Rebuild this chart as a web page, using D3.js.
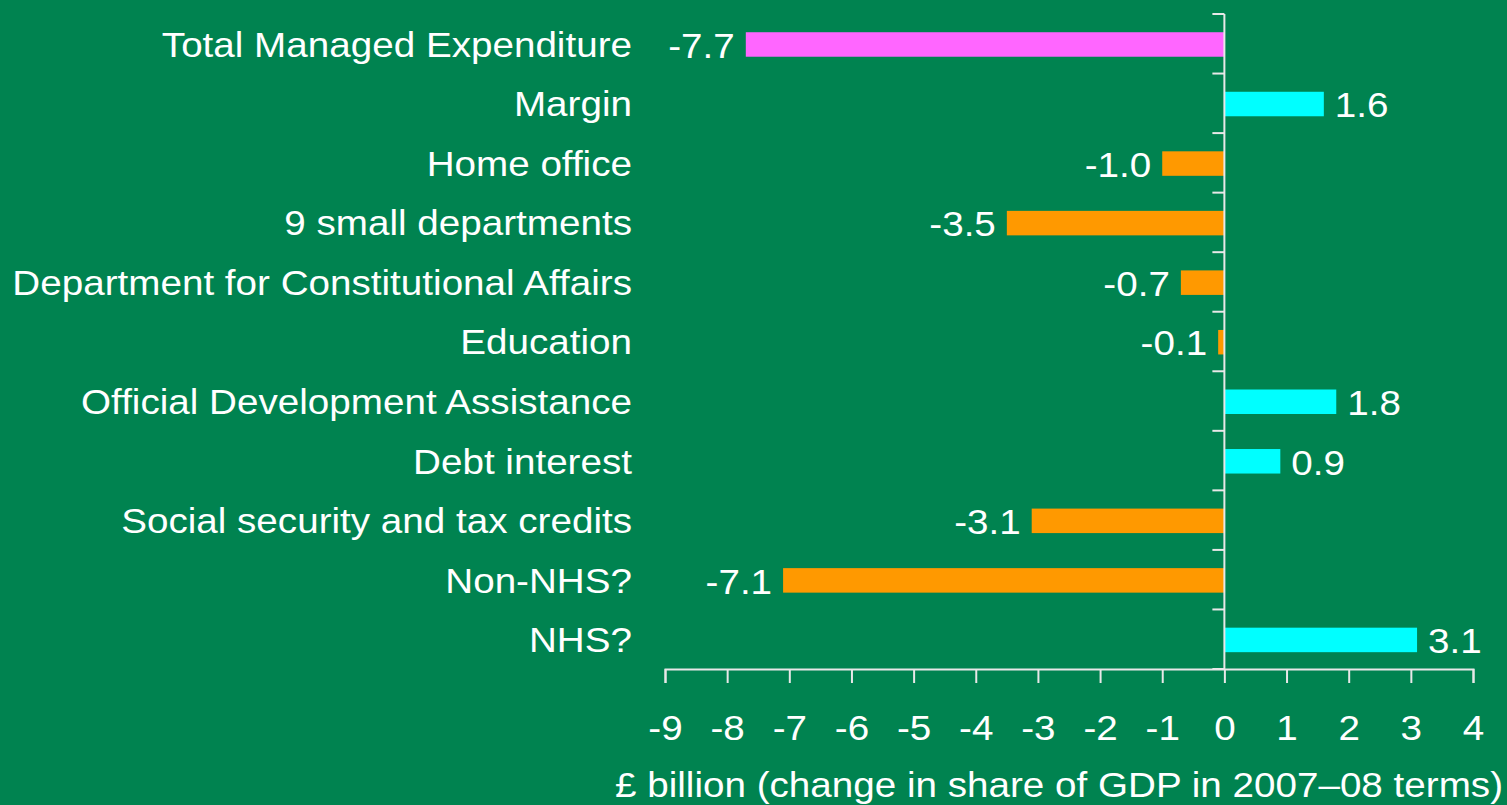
<!DOCTYPE html>
<html>
<head>
  <meta charset="utf-8">
  <title>Spending changes</title>
  <script src="https://d3js.org/d3.v7.min.js"></script>
  <style type="text/css">
    body { margin: 0; background: #008350; }
    text { font-family: "Liberation Sans", Arial, sans-serif; fill: #fff; }
  </style>
</head>
<body>
<script>

var categories = ["Total Managed Expenditure", "Margin", "Home office", "9 small departments",
  "Department for Constitutional Affairs", "Education", "Official Development Assistance",
  "Debt interest", "Social security and tax credits", "Non-NHS?", "NHS?"];
var values = [-7.7, 1.6, -1.0, -3.5, -0.7, -0.1, 1.8, 0.9, -3.1, -7.1, 3.1];
var xTicks = [-9, -8, -7, -6, -5, -4, -3, -2, -1, 0, 1, 2, 3, 4];
var axisTitle = "£ billion (change in share of GDP in 2007–08 terms)";

var width = 1507, height = 805;
var fontSize = 36;
var sx = 1.073; // the original text is a bit wider than Liberation Sans

var svg = d3.select("body").append("svg")
  .attr("width", width).attr("height", height);

var x = d3.scaleLinear().domain([-9, 4]).range([665, 1473]);
var y = d3.scaleBand().domain(categories).range([14, 669]).paddingInner(0).paddingOuter(0);
var barH = 24.5;

// colour: first bar magenta, others by sign
function barColour(d, i) {
  if (i == 0) return "#ff66ff";
  return d < 0 ? "#ff9900" : "#00ffff";
}

// places a text at (px,py) stretched horizontally
function place(px, py) {
  return "translate(" + px + "," + py + ") scale(" + sx + ",1)";
}

// bars
svg.selectAll("rect.bar")
  .data(values)
  .enter()
  .append("rect")
  .attr("class", "bar")
  .attr("x", function (d) { return x(Math.min(0, d)); })
  .attr("y", function (d, i) { return y(categories[i]) + y.bandwidth() / 2 - barH / 2 + 0.7; })
  .attr("width", function (d) { return Math.abs(x(d) - x(0)); })
  .attr("height", barH)
  .attr("fill", barColour);

// vertical axis line at zero with ticks on band edges
var lineCol = "#e8e8e8";
svg.append("line")
  .attr("x1", x(0)).attr("x2", x(0))
  .attr("y1", 14).attr("y2", 669)
  .attr("stroke", lineCol).attr("stroke-width", 2);

var edges = categories.map(function (c) { return y(c); });
edges.push(669);
svg.selectAll("line.ytick")
  .data(edges)
  .enter()
  .append("line")
  .attr("class", "ytick")
  .attr("x1", x(0) - 12).attr("x2", x(0))
  .attr("y1", function (d) { return d; }).attr("y2", function (d) { return d; })
  .attr("stroke", lineCol).attr("stroke-width", 2);

// x axis
var xAxis = d3.axisBottom(x).tickValues(xTicks).tickSize(14).tickPadding(31)
  .tickFormat(d3.format("d"));
var gx = svg.append("g").attr("transform", "translate(0,669)").call(xAxis);
gx.select(".domain").attr("stroke", lineCol).attr("stroke-width", 2);
gx.selectAll(".tick line").attr("stroke", lineCol).attr("stroke-width", 2);
gx.selectAll(".tick text")
  .attr("fill", "#fff")
  .attr("transform", "scale(" + sx + ",1)")
  .style("font-size", fontSize + "px")
  .style("font-family", "'Liberation Sans', Arial, sans-serif")
  .text(function (d) { return d < 0 ? "-" + Math.abs(d) : d; });

// category labels
svg.selectAll("text.cat")
  .data(categories)
  .enter()
  .append("text")
  .attr("class", "cat")
  .attr("transform", function (d) { return place(632, y(d) + y.bandwidth() / 2); })
  .attr("dy", "0.36em")
  .attr("text-anchor", "end")
  .style("font-size", fontSize + "px")
  .text(function (d) { return d; });

// value labels
svg.selectAll("text.val")
  .data(values)
  .enter()
  .append("text")
  .attr("class", "val")
  .attr("transform", function (d, i) {
    return place(d < 0 ? x(d) - 11 : x(d) + 11, y(categories[i]) + y.bandwidth() / 2 + 1);
  })
  .attr("dy", "0.36em")
  .attr("text-anchor", function (d) { return d < 0 ? "end" : "start"; })
  .style("font-size", fontSize + "px")
  .text(function (d) { return d.toFixed(1); });

// axis title
svg.append("text")
  .attr("transform", place(1503, 797))
  .attr("text-anchor", "end")
  .style("font-size", fontSize + "px")
  .text(axisTitle);

</script>
</body>
</html>
